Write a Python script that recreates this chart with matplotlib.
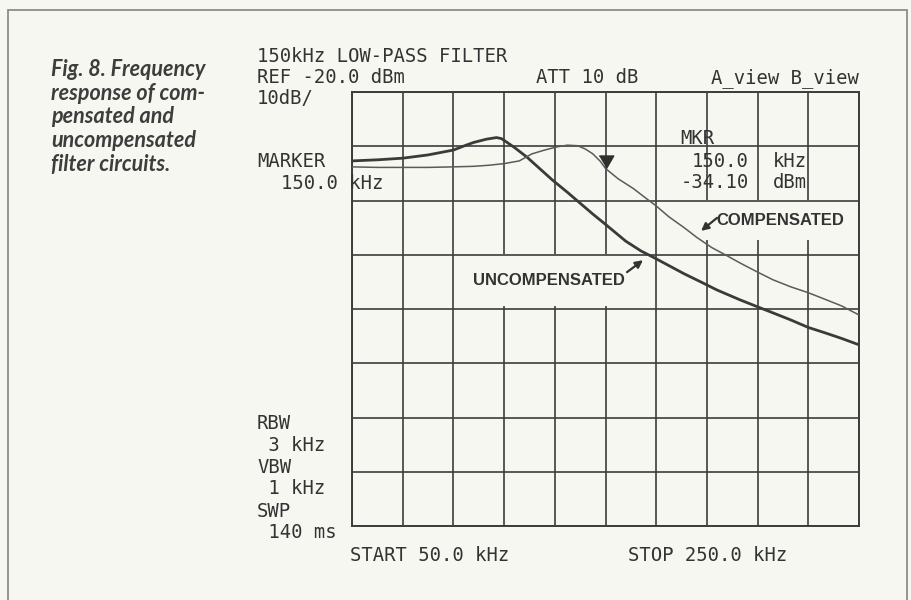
import numpy as np
import matplotlib
matplotlib.use("Agg")
import matplotlib.pyplot as plt
from matplotlib.patches import Rectangle

# sweep 50..250 kHz, REF -20 dBm, 10 dB/div
freq_start, freq_stop = 50.0, 250.0
ref_level, db_per_div, n_ydiv, n_xdiv = -20.0, 10.0, 8, 10

uncomp_khz = [50, 60, 70, 80, 90, 95, 98, 103, 107, 109, 114, 119, 124, 129, 135, 140,
              145, 150, 158, 164, 169, 175, 181, 188, 194, 203, 210, 216, 223, 230, 236, 243, 250]
uncomp_dbm = [-32.7, -32.5, -32.2, -31.6, -30.7, -29.8, -29.3, -28.7, -28.4, -28.6, -30.2, -32.0,
              -34.1, -36.2, -38.5, -40.5, -42.5, -44.4, -47.5, -49.3, -50.5, -52.0, -53.5, -55.1,
              -56.5, -58.3, -59.6, -60.7, -62.0, -63.4, -64.3, -65.4, -66.6]

comp_khz = [50, 60, 70, 80, 90, 98, 104, 110, 116, 121, 126, 131, 135, 139, 142, 145, 148, 150,
            155, 161, 166, 170, 175, 181, 186, 192, 198, 203, 210, 216, 223, 230, 236, 243, 250]
comp_dbm = [-33.8, -33.9, -33.9, -33.9, -33.8, -33.7, -33.5, -33.2, -32.7, -31.4, -30.7, -30.1,
            -29.8, -29.9, -30.5, -31.4, -32.8, -34.1, -36.0, -37.8, -39.6, -41.0, -43.0, -45.0,
            -46.8, -48.7, -50.2, -51.5, -53.2, -54.6, -55.9, -57.0, -58.1, -59.4, -61.1]

marker_khz, marker_dbm = 150.0, -34.10

W, H = 911, 600
paper = "#f7f7f1"
ink = "#333333"
mono = "DejaVu Sans Mono"


def fp(x, y):
    # pixel position on the page -> figure fraction
    return x / W, 1 - y / H


fig = plt.figure(figsize=(W / 100, H / 100), dpi=100, facecolor=paper)

# page frame
fig.patches.append(Rectangle(fp(8, 640), (907 - 8) / W, (640 - 10) / H, transform=fig.transFigure,
                             fill=False, edgecolor="#8c8c8c", linewidth=1.3))

x0, y0 = fp(352, 526)
x1, y1 = fp(859, 92)
ax = fig.add_axes([x0, y0, x1 - x0, y1 - y0])
ax.set_facecolor(paper)
ax.set_xlim(freq_start, freq_stop)
ax.set_ylim(ref_level - n_ydiv * db_per_div, ref_level)
ax.set_xticks(np.linspace(freq_start, freq_stop, n_xdiv + 1))
ax.set_yticks(np.linspace(ref_level - n_ydiv * db_per_div, ref_level, n_ydiv + 1))
ax.tick_params(length=0, labelbottom=False, labelleft=False)
ax.set_axisbelow(True)
ax.grid(True, color="#3c3c3c", linewidth=1.2)
# horizontal divisions stay on top of the label boxes, vertical ones go under
ax.yaxis.set_zorder(3.5)
for s in ax.spines.values():
    s.set_color("#3c3c3c")
    s.set_linewidth(1.4)

ax.plot(uncomp_khz, uncomp_dbm, color="#3a3a3a", linewidth=2.0, zorder=4)
ax.plot(comp_khz, comp_dbm, color="#5a5a5a", linewidth=1.1, zorder=4)

# marker triangle, tip sitting on the trace
tri = [(-0.58, 1.0), (0.58, 1.0), (0.0, 0.0)]
ax.plot([marker_khz], [marker_dbm], marker=tri, markersize=18, color="#2f2f2f",
        linestyle="none", zorder=5)

# trace labels with arrows
lab = dict(fontsize=12, fontweight="bold", family="Liberation Sans", color="#333333",
           ha="center", va="center", zorder=3)
ax.text(127.7, -54.7, "UNCOMPENSATED",
        bbox=dict(boxstyle="square,pad=1.1", facecolor=paper, edgecolor="none"), **lab)
ax.text(218.8, -43.6, "COMPENSATED",
        bbox=dict(boxstyle="square,pad=0.75", facecolor=paper, edgecolor="none"), **lab)
arr = dict(arrowstyle="-|>", color="#333333", lw=1.6, mutation_scale=11, shrinkA=0, shrinkB=0)
ax.annotate("", xy=(164.8, -51.0), xytext=(158.5, -53.2), arrowprops=arr, zorder=5)
ax.annotate("", xy=(187.7, -45.6), xytext=(194.0, -43.2), arrowprops=arr, zorder=5)

# analyzer annotations
mt = dict(family=mono, fontsize=13.6, color=ink, va="baseline")
fig.text(*fp(257, 62), "150kHz LOW-PASS FILTER", **mt)
fig.text(*fp(257, 83), "REF -20.0 dBm", **mt)
fig.text(*fp(257, 104), "10dB/", **mt)
fig.text(*fp(536, 83), "ATT 10 dB", **mt)
fig.text(*fp(859, 83), "A_view B_view", ha="right", **mt)
fig.text(*fp(257, 167), "MARKER", **mt)
fig.text(*fp(281, 189), "150.0 kHz", **mt)
fig.text(*fp(680, 144), "MKR", **mt)
fig.text(*fp(749, 167), "150.0", ha="right", **mt)
fig.text(*fp(773, 167), "kHz", **mt)
fig.text(*fp(749, 188), "-34.10", ha="right", **mt)
fig.text(*fp(773, 188), "dBm", **mt)
fig.text(*fp(257, 429), "RBW", **mt)
fig.text(*fp(257, 451), " 3 kHz", **mt)
fig.text(*fp(257, 473), "VBW", **mt)
fig.text(*fp(257, 494), " 1 kHz", **mt)
fig.text(*fp(257, 517), "SWP", **mt)
fig.text(*fp(257, 538), " 140 ms", **mt)
fig.text(*fp(350, 561), "START 50.0 kHz", **mt)
fig.text(*fp(628, 561), "STOP 250.0 kHz", **mt)

# figure caption
fig.text(*fp(51, 59), "Fig. 8. Frequency\nresponse of com-\npensated and\nuncompensated\nfilter circuits.",
         family="Lato", fontweight="bold", style="italic", fontsize=15.5, color="#3d3d3d",
         va="top", linespacing=1.16)

fig.savefig("out.png", dpi=100, facecolor=paper)
